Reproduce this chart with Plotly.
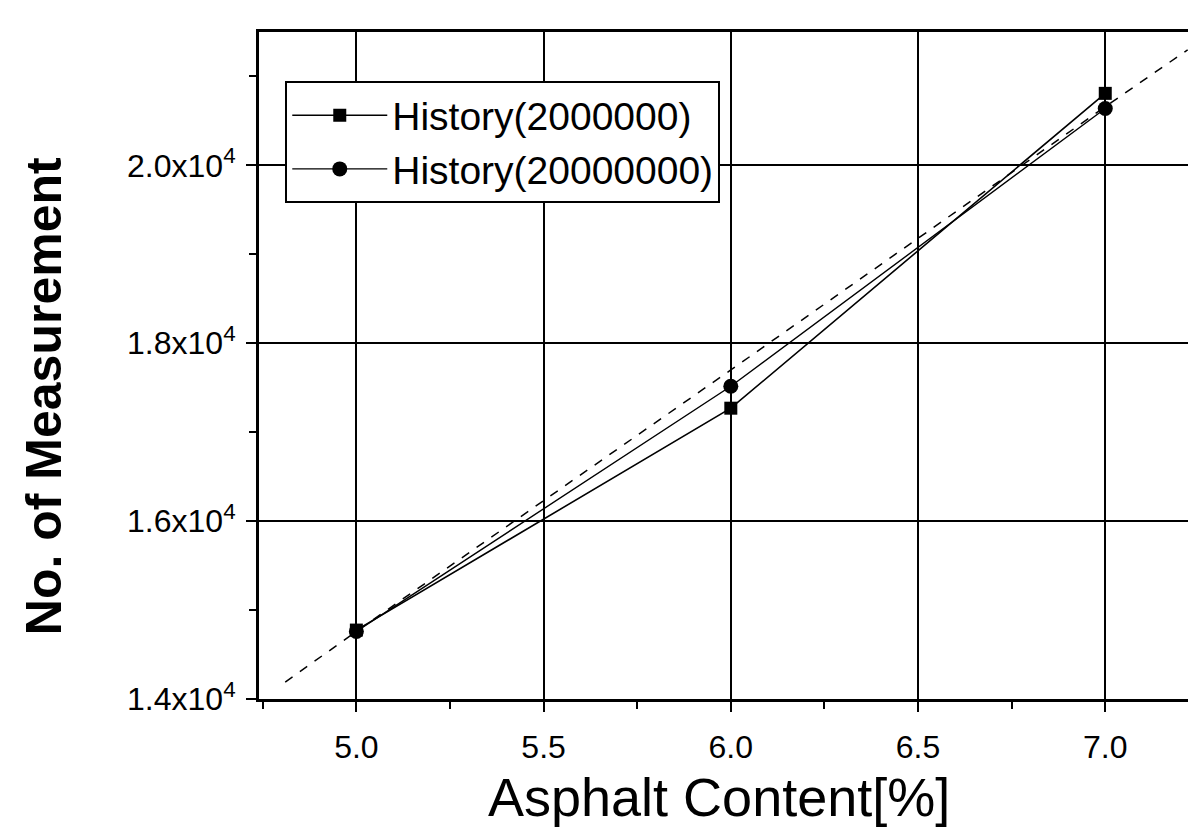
import plotly.graph_objects as go

# ---- data ----
asphalt = [5.0, 6.0, 7.0]
hist_2m = [14775, 17270, 20810]     # History(2000000), squares
hist_20m = [14760, 17517, 20640]    # History(20000000), circles
fit_x = [4.81, 5.0, 6.0, 7.0, 7.22]  # dashed trend line
fit_y = [14190, 14760, 17700, 20660, 21300]

x_ticks = [5.0, 5.5, 6.0, 6.5, 7.0]
x_ticktext = ["5.0", "5.5", "6.0", "6.5", "7.0"]
x_minor = [4.75, 5.25, 5.75, 6.25, 6.75]
y_ticks = [14000, 16000, 18000, 20000]
y_ticktext = ["1.4x10<sup>4</sup>", "1.6x10<sup>4</sup>", "1.8x10<sup>4</sup>", "2.0x10<sup>4</sup>"]
y_minor = [15000, 17000, 19000, 21000]

FONT = "Liberation Sans, Arial, sans-serif"

fig = go.Figure()
fig.add_trace(go.Scatter(x=fit_x, y=fit_y, mode="lines", showlegend=False,
                         line=dict(color="black", width=1.5, dash="dash")))
fig.add_trace(go.Scatter(x=asphalt, y=hist_2m, mode="lines+markers", name="History(2000000)",
                         line=dict(color="black", width=1.6),
                         marker=dict(symbol="square", size=13, color="black")))
fig.add_trace(go.Scatter(x=asphalt, y=hist_20m, mode="lines+markers", name="History(20000000)",
                         line=dict(color="black", width=1.4),
                         marker=dict(symbol="circle", size=15, color="black")))

fig.update_layout(
    width=1196, height=831,
    margin=dict(l=251, r=4, t=24, b=140),
    paper_bgcolor="white", plot_bgcolor="white",
    font=dict(family=FONT, color="black"),
    legend=dict(x=0.028, y=0.926, xanchor="left", yanchor="top",
                bgcolor="white", bordercolor="black", borderwidth=2,
                font=dict(size=39, family=FONT), itemwidth=95, tracegroupgap=0),
    xaxis=dict(range=[4.74, 7.245], tickvals=x_ticks, ticktext=x_ticktext,
               showgrid=True, gridcolor="black", gridwidth=2, zeroline=False,
               showline=True, linecolor="black", linewidth=3, mirror=True,
               ticks="outside", ticklen=10, tickwidth=2, tickcolor="black",
               tickfont=dict(size=32), ticklabelstandoff=8,
               minor=dict(tickvals=x_minor, ticks="outside", ticklen=7, tickwidth=2,
                          tickcolor="black", showgrid=False)),
    yaxis=dict(range=[14000, 21500], tickvals=y_ticks, ticktext=y_ticktext,
               showgrid=True, gridcolor="black", gridwidth=2, zeroline=False,
               showline=True, linecolor="black", linewidth=3, mirror=True,
               ticks="outside", ticklen=10, tickwidth=2, tickcolor="black",
               tickfont=dict(size=32), ticklabelstandoff=4,
               minor=dict(tickvals=y_minor, ticks="outside", ticklen=7, tickwidth=2,
                          tickcolor="black", showgrid=False)),
    annotations=[
        dict(text="Asphalt Content[%]", xref="paper", yref="paper", x=0.49, y=0,
             xanchor="center", yanchor="middle", yshift=-98, showarrow=False,
             font=dict(size=54, family=FONT)),
        dict(text="<b>No. of Measurement</b>", xref="paper", yref="paper", x=0, y=0.454,
             xanchor="center", yanchor="middle", xshift=-215, textangle=-90, showarrow=False,
             font=dict(size=50, family=FONT)),
    ],
)

fig.write_html("out.html")
